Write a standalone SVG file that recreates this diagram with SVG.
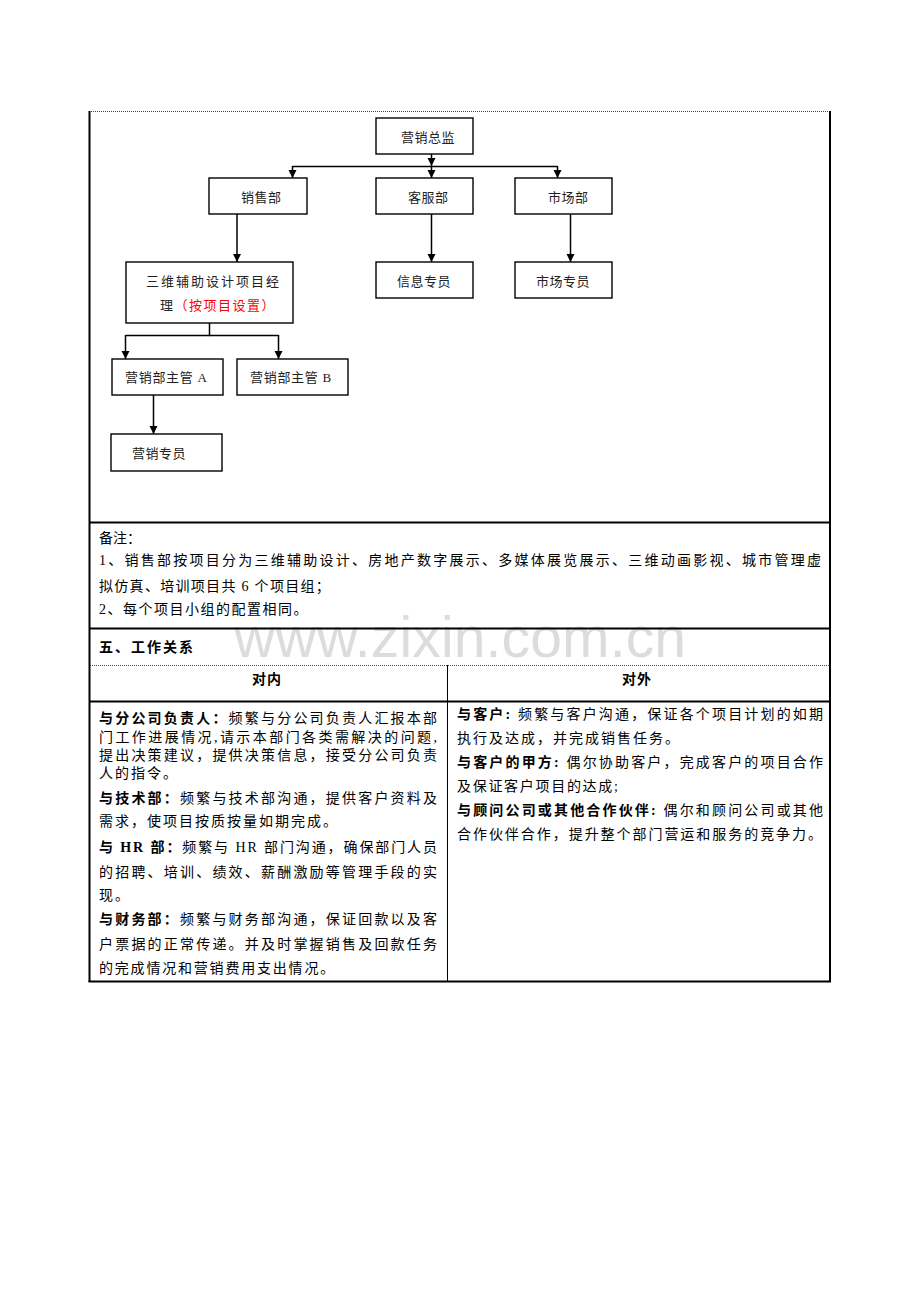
<svg xmlns="http://www.w3.org/2000/svg" width="920" height="1302" viewBox="0 0 920 1302">
<style>
.box{fill:#fff;stroke:#000;stroke-width:1.4}
.org{font-family:"Liberation Serif","Noto Sans CJK SC",serif;font-size:13px;fill:#222}
.red{fill:#f00}
.thick{stroke:#000;stroke-width:2;fill:none}
.thin{stroke:#000;stroke-width:1;fill:none}
.dot{stroke:#444;stroke-width:1;stroke-dasharray:1 1;fill:none}
.txt{font-family:"Liberation Serif","Noto Sans CJK SC",serif;font-size:14px;fill:#000}
.b{font-weight:bold}
.wm{font-family:"Liberation Sans",Arial,sans-serif;font-size:57px;fill:#dcdcdc}
.con{stroke:#000;stroke-width:1.5;fill:none}
</style>
<defs>
<marker id="ah" markerUnits="userSpaceOnUse" markerWidth="9" markerHeight="9" refX="8" refY="4" orient="auto">
<path d="M0,0 L8,4 L0,8 z" fill="#000"/>
</marker>
</defs>
<rect width="920" height="1302" fill="#fff"/>
<text class="wm" x="234" y="657" textLength="452">www.zixin.com.cn</text>

<g id="table">
<line class="dot" x1="89" y1="111.5" x2="830" y2="111.5"/>
<line class="thick" x1="89.5" y1="111" x2="89.5" y2="982"/>
<line class="thick" x1="830" y1="111" x2="830" y2="982"/>
<line class="thick" x1="89" y1="522.5" x2="831" y2="522.5"/>
<line class="thick" x1="89" y1="628.5" x2="831" y2="628.5"/>
<line class="dot" x1="90" y1="665.5" x2="829" y2="665.5"/>
<line class="thin" x1="447.5" y1="665" x2="447.5" y2="981"/>
<line class="thick" x1="89" y1="701.5" x2="831" y2="701.5"/>
<line class="thick" x1="88.5" y1="981.5" x2="831" y2="981.5"/>
</g>

<g id="connectors">
<line class="con" x1="431.5" y1="154" x2="431.5" y2="166" marker-end="url(#ah)"/>
<line class="con" x1="292.5" y1="166.5" x2="557.5" y2="166.5"/>
<line class="con" x1="292.5" y1="166" x2="292.5" y2="178" marker-end="url(#ah)"/>
<line class="con" x1="431.5" y1="166" x2="431.5" y2="178" marker-end="url(#ah)"/>
<line class="con" x1="557.5" y1="166" x2="557.5" y2="178" marker-end="url(#ah)"/>
<line class="con" x1="237" y1="214" x2="237" y2="262" marker-end="url(#ah)"/>
<line class="con" x1="431.5" y1="214" x2="431.5" y2="262" marker-end="url(#ah)"/>
<line class="con" x1="570.5" y1="214" x2="570.5" y2="262" marker-end="url(#ah)"/>
<polyline class="con" points="209.5,323 209.5,335.5 125.5,335.5"/>
<line class="con" x1="209.5" y1="335.5" x2="278.5" y2="335.5"/>
<line class="con" x1="125.5" y1="335" x2="125.5" y2="359" marker-end="url(#ah)"/>
<line class="con" x1="278.5" y1="335" x2="278.5" y2="359" marker-end="url(#ah)"/>
<line class="con" x1="153.5" y1="395" x2="153.5" y2="434" marker-end="url(#ah)"/>
</g>

<g id="n-zongjian"><rect class="box" x="376" y="118" width="97" height="36"/><text class="org" x="401" y="142" letter-spacing="0.5">营销总监</text></g>
<g id="n-xiaoshou"><rect class="box" x="209" y="178" width="98" height="36"/><text class="org" x="241" y="202" letter-spacing="0.5">销售部</text></g>
<g id="n-kefu"><rect class="box" x="376" y="178" width="97" height="36"/><text class="org" x="408" y="202" letter-spacing="0.5">客服部</text></g>
<g id="n-shichang"><rect class="box" x="515" y="178" width="97" height="36"/><text class="org" x="548" y="202" letter-spacing="0.5">市场部</text></g>
<g id="n-sanwei"><rect class="box" x="126" y="262" width="167" height="61"/><text class="org" x="146" y="286" letter-spacing="2">三维辅助设计项目经</text><text class="org" x="160" y="310" letter-spacing="1.5">理<tspan class="red">（按项目设置）</tspan></text></g>
<g id="n-xinxi"><rect class="box" x="376" y="262" width="97" height="36"/><text class="org" x="397" y="286" letter-spacing="0.5">信息专员</text></g>
<g id="n-shichangzy"><rect class="box" x="515" y="262" width="97" height="36"/><text class="org" x="536" y="286" letter-spacing="0.5">市场专员</text></g>
<g id="n-zhuguanA"><rect class="box" x="112" y="359" width="111" height="36"/><text class="org" x="125" y="382" letter-spacing="0.7">营销部主管 A</text></g>
<g id="n-zhuguanB"><rect class="box" x="237" y="359" width="111" height="36"/><text class="org" x="250" y="382" letter-spacing="0.7">营销部主管 B</text></g>
<g id="n-yingxiaozy"><rect class="box" x="111" y="434" width="111" height="37"/><text class="org" x="132" y="458" letter-spacing="0.5">营销专员</text></g>

<g id="notes">
<text class="txt" x="99" y="543">备注：</text>
<text class="txt" x="99" y="565" textLength="722" lengthAdjust="spacing">1、销售部按项目分为三维辅助设计、房地产数字展示、多媒体展览展示、三维动画影视、城市管理虚</text>
<text class="txt" x="99" y="591" letter-spacing="1.3">拟仿真、培训项目共 6 个项目组；</text>
<text class="txt" x="99" y="614" letter-spacing="1.5">2、每个项目小组的配置相同。</text>
</g>

<g id="relations">
<text class="txt b" x="99" y="652" letter-spacing="2">五、工作关系</text>
<text class="txt b" x="267" y="684" text-anchor="middle" letter-spacing="1">对内</text>
<text class="txt b" x="637" y="684" text-anchor="middle" letter-spacing="1">对外</text>
</g>

<g id="inner">
<text class="txt" x="99" y="723" textLength="338" lengthAdjust="spacing"><tspan class="b">与分公司负责人：</tspan>频繁与分公司负责人汇报本部</text>
<text class="txt" x="99" y="742" textLength="338" lengthAdjust="spacing">门工作进展情况,请示本部门各类需解决的问题,</text>
<text class="txt" x="99" y="760" textLength="338" lengthAdjust="spacing">提出决策建议，提供决策信息，接受分公司负责</text>
<text class="txt" x="99" y="778" letter-spacing="2">人的指令。</text>
<text class="txt" x="99" y="803" textLength="338" lengthAdjust="spacing"><tspan class="b">与技术部：</tspan>频繁与技术部沟通，提供客户资料及</text>
<text class="txt" x="99" y="826" letter-spacing="2">需求，使项目按质按量如期完成。</text>
<text class="txt" x="99" y="852" textLength="338" lengthAdjust="spacing"><tspan class="b">与 HR 部：</tspan>频繁与 HR 部门沟通，确保部门人员</text>
<text class="txt" x="99" y="877" textLength="338" lengthAdjust="spacing">的招聘、培训、绩效、薪酬激励等管理手段的实</text>
<text class="txt" x="99" y="900" letter-spacing="2">现。</text>
<text class="txt" x="99" y="924" textLength="338" lengthAdjust="spacing"><tspan class="b">与财务部：</tspan>频繁与财务部沟通，保证回款以及客</text>
<text class="txt" x="99" y="949" textLength="338" lengthAdjust="spacing">户票据的正常传递。并及时掌握销售及回款任务</text>
<text class="txt" x="99" y="973" letter-spacing="1.8">的完成情况和营销费用支出情况。</text>
</g>

<g id="outer">
<text class="txt" x="457" y="719" textLength="366" lengthAdjust="spacing"><tspan class="b">与客户:</tspan> 频繁与客户沟通，保证各个项目计划的如期</text>
<text class="txt" x="457" y="743" letter-spacing="2">执行及达成，并完成销售任务。</text>
<text class="txt" x="457" y="767" textLength="366" lengthAdjust="spacing"><tspan class="b">与客户的甲方:</tspan> 偶尔协助客户，完成客户的项目合作</text>
<text class="txt" x="457" y="791" letter-spacing="1.7">及保证客户项目的达成;</text>
<text class="txt" x="457" y="815" textLength="366" lengthAdjust="spacing"><tspan class="b">与顾问公司或其他合作伙伴:</tspan> 偶尔和顾问公司或其他</text>
<text class="txt" x="457" y="839" textLength="365" lengthAdjust="spacing">合作伙伴合作，提升整个部门营运和服务的竞争力。</text>
</g>
</svg>
